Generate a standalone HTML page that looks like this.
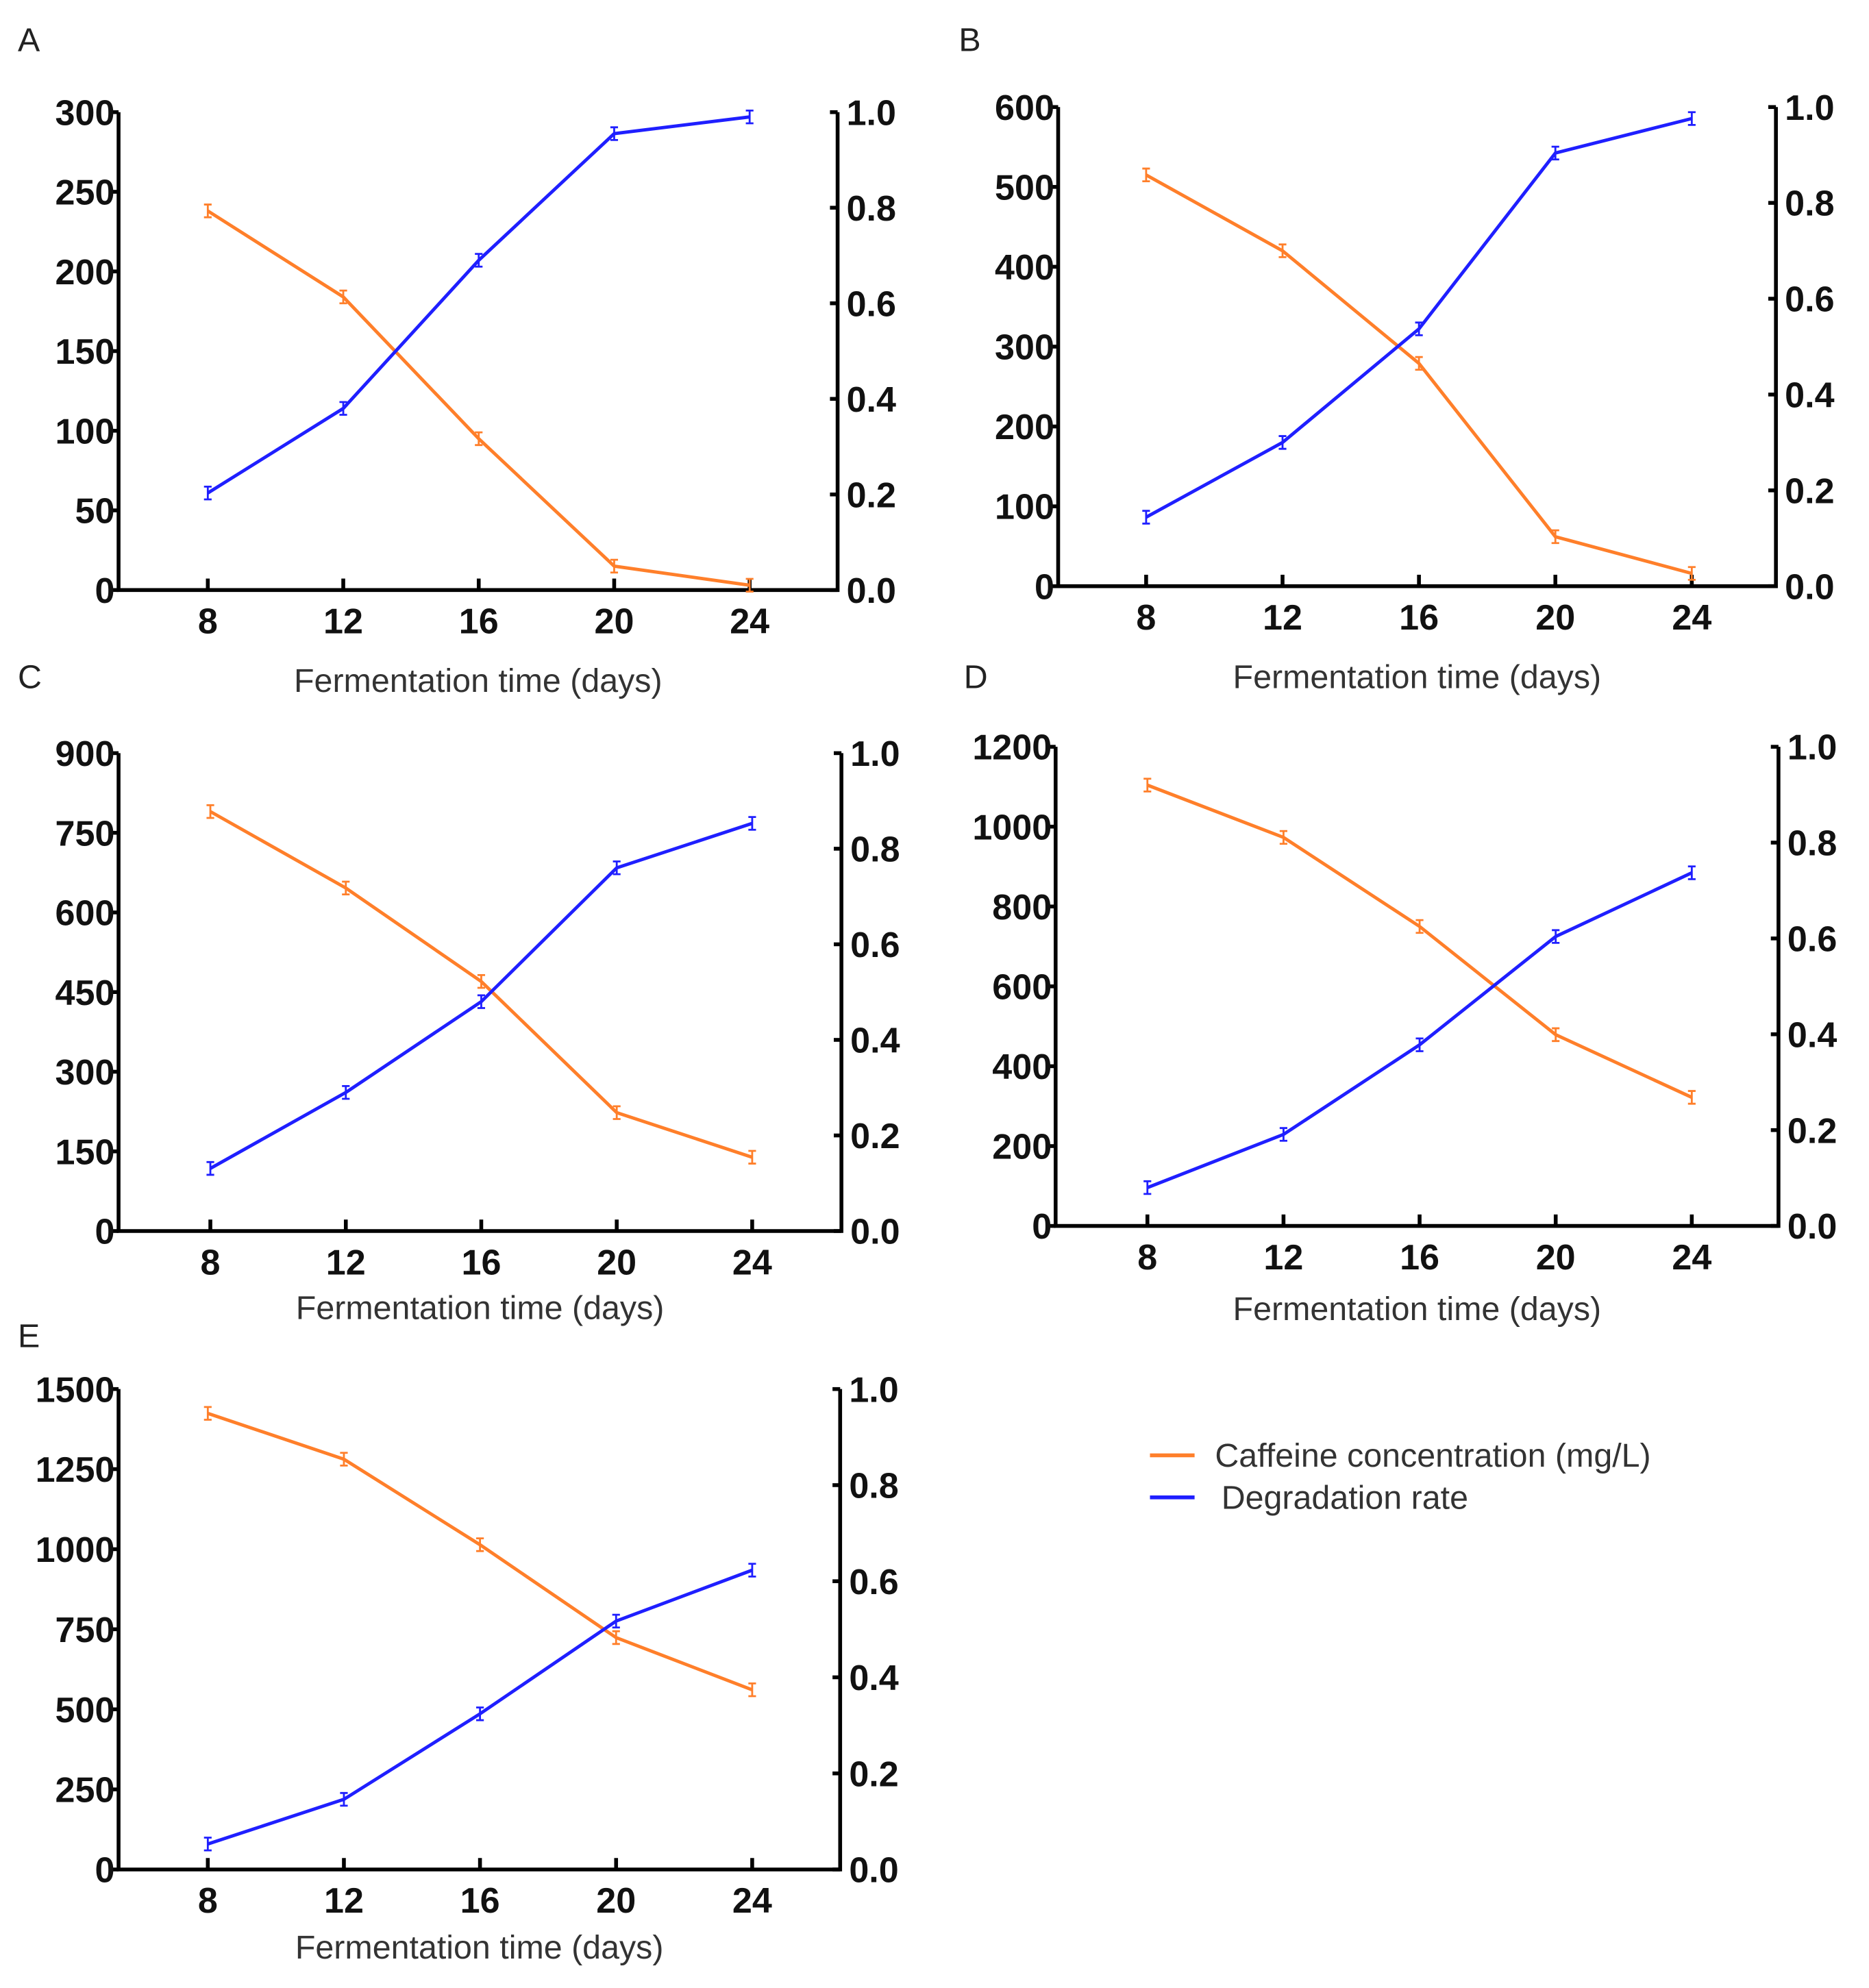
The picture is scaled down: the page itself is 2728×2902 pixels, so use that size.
<!DOCTYPE html>
<html><head><meta charset="utf-8"><style>
html,body{margin:0;padding:0;background:#fff}
svg{display:block}
text{font-family:"Liberation Sans",sans-serif}
.tk{font-weight:bold;font-size:28px;fill:#111}
.ttl{font-size:26px;fill:#333}
.pl{font-size:26px;fill:#222}
</style></head><body>
<svg id="chart" width="2728" height="2902" viewBox="0 0 1466 1560" preserveAspectRatio="none" xmlns="http://www.w3.org/2000/svg">
<g>
<line x1="902" y1="1142" x2="937" y2="1142" stroke="#ff7f2a" stroke-width="3"/>
<text class="ttl" x="953" y="1151">Caffeine concentration (mg/L)</text>
<line x1="902" y1="1175" x2="937" y2="1175" stroke="#1f1fff" stroke-width="3"/>
<text class="ttl" x="958" y="1184">Degradation rate</text>
</g>
</svg>
<script>
const days = [8,12,16,20,24];
const labels = ['A','B','C','D','E'];
const leftMax = [300,600,900,1200,1500];
const leftStep = [50,100,150,200,250];
const caffeineA = [238,184,95,15,3];
const caffeineB = [515,420,279,62,16];
const caffeineC = [790,646,470,223,139];
const caffeineD = [1104,973,750,479,322];
const caffeineE = [1424,1281,1014,724,561];
const degradA = [0.203,0.38,0.69,0.955,0.99];
const degradB = [0.144,0.30,0.537,0.904,0.976];
const degradC = [0.131,0.29,0.48,0.76,0.853];
const degradD = [0.08,0.191,0.378,0.604,0.737];
const degradE = [0.053,0.146,0.324,0.517,0.623];
const rightTicks = ['0.0','0.2','0.4','0.6','0.8','1.0'];
const caffeine = [caffeineA,caffeineB,caffeineC,caffeineD,caffeineE];
const degrad = [degradA,degradB,degradC,degradD,degradE];
const layout = [
 [93,88,463,657,163,588,14,40,543],
 [830,84,460,1393,899,1327,752,40,540],
 [93,591,966,660,165,590,14,540,1035],
 [828,586,962,1395,900,1327,756,540,1036],
 [93,1090,1467,659,163,590,14,1057,1537]
];
const NS='http://www.w3.org/2000/svg';
const svg=document.getElementById('chart');
function mk(tag,attrs,parent){const e=document.createElementNS(NS,tag);for(const k in attrs)e.setAttribute(k,attrs[k]);parent.appendChild(e);return e;}
layout.forEach((L,i)=>{
 const [lx,ty,by,rx,x8,x24,plx,ply,tty]=L;
 const g=mk('g',{},svg);
 
 
 const xs=d=>x8+(d-8)*(x24-x8)/16;
 const yl=v=>by-v/leftMax[i]*(by-ty);
 const yr=v=>by-v*(by-ty);
 const pl=mk('text',{x:plx,y:ply,class:'pl'},g);pl.textContent=labels[i];
 
 
 const ax=mk('path',{d:`M${lx},${ty} V${by} H${rx} V${ty}`,fill:'none',stroke:'#000','stroke-width':3},g);
 
 
 for(let v=0;v<=leftMax[i];v+=leftStep[i]){
  const y=yl(v);
  mk('line',{x1:lx-6,y1:y,x2:lx,y2:y,stroke:'#000','stroke-width':3},g);
  const t=mk('text',{x:lx-3,y:y+10,class:'tk','text-anchor':'end'},g);t.textContent=v;
  
  
 }
 rightTicks.forEach((s,k)=>{
  const y=yr(parseFloat(s));
  mk('line',{x1:rx,y1:y,x2:rx-6,y2:y,stroke:'#000','stroke-width':3},g);
  const t=mk('text',{x:rx+7,y:y+10,class:'tk'},g);t.textContent=s;
  
  
 });
 days.forEach(d=>{
  const x=xs(d);
  mk('line',{x1:x,y1:by,x2:x,y2:by-9,stroke:'#000','stroke-width':3},g);
  const t=mk('text',{x:x,y:by+34,class:'tk','text-anchor':'middle'},g);t.textContent=d;
  
  
 });
 const tt=mk('text',{x:(lx+rx)/2,y:tty,class:'ttl','text-anchor':'middle'},g);tt.textContent='Fermentation time (days)';
 
 
 const series=[[caffeine[i],yl,'#ff7f2a','caffeine-line'],[degrad[i],yr,'#1f1fff','degradation-line']];
 series.forEach(([vals,ys,col,nm])=>{
  const p=mk('polyline',{points:vals.map((v,k)=>xs(days[k])+','+ys(v)).join(' '),fill:'none',stroke:col,'stroke-width':2.6},g);
  
  
  vals.forEach((v,k)=>{
   const x=xs(days[k]),y=ys(v);
   const e=mk('path',{d:`M${x-3},${y-5}H${x+3}M${x},${y-5}V${y+5}M${x-3},${y+5}H${x+3}`,stroke:col,'stroke-width':1.5,fill:'none'},g);
   
   
  });
 });
});
</script>
</body></html>
